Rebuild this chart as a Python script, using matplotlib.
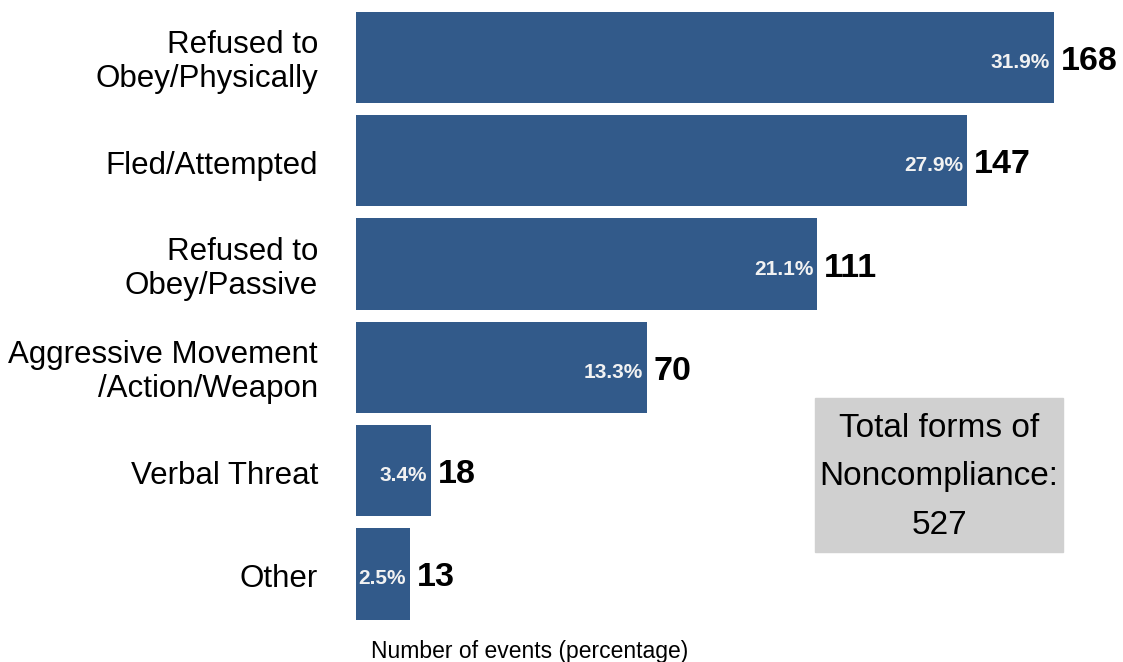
import matplotlib
matplotlib.use("Agg")
import matplotlib.pyplot as plt
from matplotlib.transforms import offset_copy

plt.rcParams['font.family'] = ['Liberation Sans', 'DejaVu Sans']

# noncompliance categories, top to bottom
categories = ["Refused to\nObey/Physically", "Fled/Attempted", "Refused to\nObey/Passive",
              "Aggressive Movement\n/Action/Weapon", "Verbal Threat", "Other"]
counts = [168, 147, 111, 70, 18, 13]
shares = ["31.9%", "27.9%", "21.1%", "13.3%", "3.4%", "2.5%"]
total = 527

bar_color = "#325a8a"

fig = plt.figure(figsize=(11.23, 6.62), dpi=100)
ax = fig.add_axes([356 / 1123, 36.4 / 662, 1 - 356 / 1123, 619.8 / 662])

ypos = list(range(len(categories)))
ax.barh(ypos, counts, height=0.885, color=bar_color)
ax.set_xlim(0, 767 / 4.155)
ax.set_ylim(len(categories) - 0.5, -0.5)
ax.set_xticks([])
ax.set_yticks([])
for s in ax.spines.values():
    s.set_visible(False)

# category names, right aligned left of the bars
for y, cat in zip(ypos, categories):
    ax.text(0, y, cat, transform=offset_copy(ax.transData, fig, x=-38, y=-5, units="dots"),
            ha="right", va="center", fontsize=22.5, linespacing=1.17)

for y, n, pct in zip(ypos, counts, shares):
    ax.text(n, y, pct, transform=offset_copy(ax.transData, fig, x=-4, y=-5, units="dots"),
            ha="right", va="center", fontsize=15, fontweight="bold", color="#f2f2f2")
    ax.text(n, y, str(n), transform=offset_copy(ax.transData, fig, x=7, y=-4, units="dots"),
            ha="left", va="center", fontsize=24.5, fontweight="bold", color="black")

# total box
fig.patches.append(plt.Rectangle((815 / 1123, (662 - 552) / 662), 248 / 1123, 154 / 662,
                                 transform=fig.transFigure, color="#d0d0d0", zorder=0))
fig.text(939 / 1123, (662 - 477) / 662, f"Total forms of\nNoncompliance:\n{total}",
         ha="center", va="center", fontsize=24, linespacing=1.72)

fig.text(530 / 1123, (662 - 658) / 662, "Number of events (percentage)",
         ha="center", va="baseline", fontsize=16.5)

fig.savefig("out.png", dpi=100)
